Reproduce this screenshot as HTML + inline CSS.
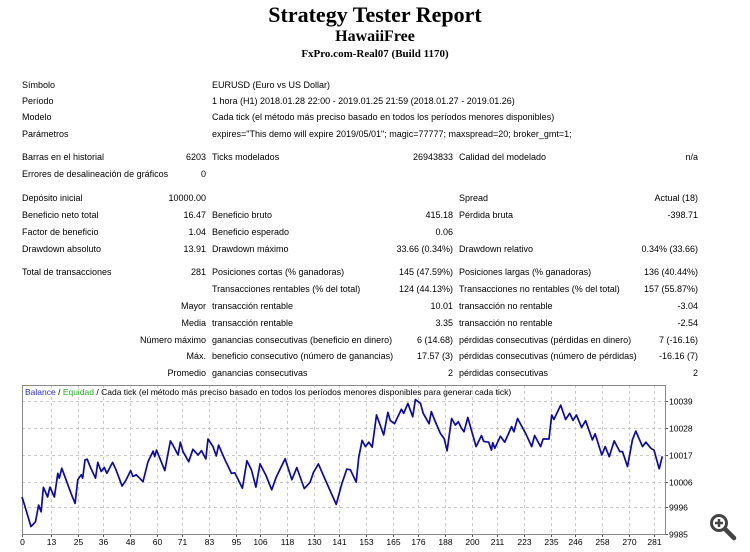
<!DOCTYPE html>
<html><head><meta charset="utf-8">
<style>
body{margin:0;width:750px;height:552px;background:#fff;position:relative;overflow:hidden;font-family:"Liberation Sans",sans-serif;}
.t{position:absolute;font-size:9px;line-height:12px;color:#000;white-space:nowrap;}
.c1{left:22px}.c2{left:212px}.c3{left:459px}
.v1{right:544px;text-align:right}.v2{right:297px;text-align:right}.v3{right:52px;text-align:right}
.h{position:absolute;left:0;width:750px;text-align:center;font-family:"Liberation Serif",serif;font-weight:bold;}
</style></head><body>
<div class="h" style="top:2px;font-size:22px;line-height:26px">Strategy Tester Report</div>
<div class="h" style="top:27px;font-size:16px;line-height:20px">HawaiiFree</div>
<div class="h" style="top:47px;font-size:11px;line-height:14px">FxPro.com-Real07 (Build 1170)</div>

<div class="t c1" style="top:79px">Símbolo</div>
<div class="t c2" style="top:79px">EURUSD (Euro vs US Dollar)</div>
<div class="t c1" style="top:95px">Período</div>
<div class="t c2" style="top:95px">1 hora (H1) 2018.01.28 22:00 - 2019.01.25 21:59 (2018.01.27 - 2019.01.26)</div>
<div class="t c1" style="top:111px">Modelo</div>
<div class="t c2" style="top:111px">Cada tick (el método más preciso basado en todos los períodos menores disponibles)</div>
<div class="t c1" style="top:128px">Parámetros</div>
<div class="t c2" style="top:128px">expires="This demo will expire 2019/05/01"; magic=77777; maxspread=20; broker_gmt=1;</div>

<div class="t c1" style="top:151px">Barras en el historial</div>
<div class="t v1" style="top:151px">6203</div>
<div class="t c2" style="top:151px">Ticks modelados</div>
<div class="t v2" style="top:151px">26943833</div>
<div class="t c3" style="top:151px">Calidad del modelado</div>
<div class="t v3" style="top:151px">n/a</div>
<div class="t c1" style="top:168px">Errores de desalineación de gráficos</div>
<div class="t v1" style="top:168px">0</div>

<div class="t c1" style="top:192px">Depósito inicial</div>
<div class="t v1" style="top:192px">10000.00</div>
<div class="t c3" style="top:192px">Spread</div>
<div class="t v3" style="top:192px">Actual (18)</div>
<div class="t c1" style="top:209px">Beneficio neto total</div>
<div class="t v1" style="top:209px">16.47</div>
<div class="t c2" style="top:209px">Beneficio bruto</div>
<div class="t v2" style="top:209px">415.18</div>
<div class="t c3" style="top:209px">Pérdida bruta</div>
<div class="t v3" style="top:209px">-398.71</div>
<div class="t c1" style="top:226px">Factor de beneficio</div>
<div class="t v1" style="top:226px">1.04</div>
<div class="t c2" style="top:226px">Beneficio esperado</div>
<div class="t v2" style="top:226px">0.06</div>
<div class="t c1" style="top:243px">Drawdown absoluto</div>
<div class="t v1" style="top:243px">13.91</div>
<div class="t c2" style="top:243px">Drawdown máximo</div>
<div class="t v2" style="top:243px">33.66 (0.34%)</div>
<div class="t c3" style="top:243px">Drawdown relativo</div>
<div class="t v3" style="top:243px">0.34% (33.66)</div>

<div class="t c1" style="top:266px">Total de transacciones</div>
<div class="t v1" style="top:266px">281</div>
<div class="t c2" style="top:266px">Posiciones cortas (% ganadoras)</div>
<div class="t v2" style="top:266px">145 (47.59%)</div>
<div class="t c3" style="top:266px">Posiciones largas (% ganadoras)</div>
<div class="t v3" style="top:266px">136 (40.44%)</div>
<div class="t c2" style="top:283px">Transacciones rentables (% del total)</div>
<div class="t v2" style="top:283px">124 (44.13%)</div>
<div class="t c3" style="top:283px">Transacciones no rentables (% del total)</div>
<div class="t v3" style="top:283px">157 (55.87%)</div>
<div class="t v1" style="top:300px">Mayor</div>
<div class="t c2" style="top:300px">transacción rentable</div>
<div class="t v2" style="top:300px">10.01</div>
<div class="t c3" style="top:300px">transacción no rentable</div>
<div class="t v3" style="top:300px">-3.04</div>
<div class="t v1" style="top:317px">Media</div>
<div class="t c2" style="top:317px">transacción rentable</div>
<div class="t v2" style="top:317px">3.35</div>
<div class="t c3" style="top:317px">transacción no rentable</div>
<div class="t v3" style="top:317px">-2.54</div>
<div class="t v1" style="top:334px">Número máximo</div>
<div class="t c2" style="top:334px">ganancias consecutivas (beneficio en dinero)</div>
<div class="t v2" style="top:334px">6 (14.68)</div>
<div class="t c3" style="top:334px">pérdidas consecutivas (pérdidas en dinero)</div>
<div class="t v3" style="top:334px">7 (-16.16)</div>
<div class="t v1" style="top:350px">Máx.</div>
<div class="t c2" style="top:350px">beneficio consecutivo (número de ganancias)</div>
<div class="t v2" style="top:350px">17.57 (3)</div>
<div class="t c3" style="top:350px">pérdidas consecutivas (número de pérdidas)</div>
<div class="t v3" style="top:350px">-16.16 (7)</div>
<div class="t v1" style="top:367px">Promedio</div>
<div class="t c2" style="top:367px">ganancias consecutivas</div>
<div class="t v2" style="top:367px">2</div>
<div class="t c3" style="top:367px">pérdidas consecutivas</div>
<div class="t v3" style="top:367px">2</div>

<svg id="chart" width="750" height="552" style="position:absolute;left:0;top:0"></svg>

<script>
const xTicks=[0,13,25,36,48,60,71,83,95,106,118,130,141,153,165,176,188,200,211,223,235,246,258,270,281];
const yTicks=[9985,9996,10006,10017,10028,10039];
const tradeIdx=[0,1,4,6,7.4,8.5,9.5,11.4,12.4,14.4,15.9,16.6,17.7,19.6,21.8,23.6,24.8,26.3,27,28,29,30.3,32.7,33.7,35.2,36.6,37.7,40.3,41.8,44.5,46.3,48.3,49.3,50.8,53.8,56,58.3,59,59.8,63.5,66,67.1,69.4,70.4,71.6,74.1,76,78.3,79.8,81.7,82.7,84.9,86.4,87.4,90.1,93.1,94.6,98,100,102,104,105.8,108.5,111,113,117,120,122.2,125.5,128.1,129.6,131.8,134,139.7,142.2,144.4,146,148.6,149.7,151.2,152.7,154.2,155.7,157.6,160.8,162.7,163.7,165.6,168.7,169.7,171.6,173.7,174.9,177.2,178.4,181,182,183.2,186,187.7,189,191,192.7,194,195.4,196.5,198.2,201.9,204.3,205.3,207.5,208.7,209.3,210.2,212.7,214.6,217.7,218.7,220.3,223.9,226.6,227.9,230.6,231.7,234.3,235.5,236.5,239.5,241.7,243.5,245,246.5,248.8,250.6,253.6,254.8,257.8,259.3,261.1,263.3,265.8,267,269.2,271.4,272.9,275.9,277.4,279.6,281,283.3,284.7];
const balance=[10000,9997.2,9988,9990,9996.7,9994,10003.9,10000,10004,10000,10009.6,10007.6,10011.6,10006.9,10001.5,9997.4,10007,10009,10007.6,10015,10015.3,10012.3,10007.6,10014,10010.3,10012,10009.6,10014,10011,10004.4,10006.9,10010.7,10008.3,10009,10006.2,10014.3,10018.6,10016.3,10019,10010.7,10022.7,10021,10017,10022.2,10018.4,10014.3,10019.3,10017,10018.8,10015.4,10023.5,10020.4,10016.6,10021,10015.4,10009.6,10009.8,10003.5,10014.7,10011,10004,10013.4,10008.7,10002.9,10008,10015.5,10007,10011.9,10003.4,10006,10010,10013.4,10008.7,9997,10005.3,10011.3,10011,10006,10015.9,10022.9,10020.4,10022.2,10020.2,10033.2,10025.1,10034.3,10031,10029.7,10035.5,10033.9,10037.9,10032.5,10039.5,10037.9,10033.9,10029.7,10034.6,10031.8,10025.8,10023.6,10018.7,10031.8,10029.1,10030.5,10027.8,10026.4,10032.2,10020.4,10024.9,10022.5,10022.2,10019,10022,10019.7,10024.6,10022.2,10028.5,10026.4,10031.8,10025.8,10020.4,10024.9,10020.4,10023.5,10023.5,10033.2,10031.4,10037.2,10031.4,10033.9,10031,10033.2,10028.2,10030.9,10023.1,10025.6,10017,10020.4,10016.3,10022.7,10018.4,10018.4,10012.3,10023.1,10026.7,10020.4,10022.2,10019.7,10019,10011.4,10016.47];

const NS='http://www.w3.org/2000/svg';
const svg=document.getElementById('chart');
const L=22,R=665,T=385,B=534;
const xMax=285,yMin=9985,yMax=10039;
const yTop=400.7;
function xs(i){return L+i*(R-2-L)/xMax;}
function ys(v){return B-(v-yMin)*(B-yTop)/(yMax-yMin);}
function mk(tag,attrs){const e=document.createElementNS(NS,tag);for(const k in attrs)e.setAttribute(k,attrs[k]);svg.appendChild(e);return e;}

const frame=mk('rect',{x:L+0.5,y:T+0.5,width:R-L,height:B-T,fill:'#fff',stroke:'#8a8a8a','stroke-width':1});



yTicks.forEach(v=>{
  const y=Math.round(ys(v))+0.5;
  const g=mk('line',{x1:L,x2:R,y1:y,y2:y,stroke:'#c8c8c8','stroke-dasharray':'3,3'});
  
  
  const tk=mk('line',{x1:R,x2:R+3,y1:y,y2:y,stroke:'#555'});
  
  
  const t=mk('text',{x:R+4,y:y+3,'font-size':'8.5','font-family':'Liberation Sans, sans-serif',fill:'#000'});
  t.textContent=v;
  
  
});
xTicks.forEach(i=>{
  const x=Math.round(xs(i))+0.5;
  const g=mk('line',{x1:x,x2:x,y1:T,y2:B,stroke:'#c8c8c8','stroke-dasharray':'3,3'});
  
  
  const tk=mk('line',{x1:x,x2:x,y1:B,y2:B+3,stroke:'#555'});
  
  
  const t=mk('text',{x:x,y:B+11,'font-size':'8.5','font-family':'Liberation Sans, sans-serif','text-anchor':'middle',fill:'#000'});
  t.textContent=i;
  
  
});
mk('rect',{x:L+0.5,y:T+0.5,width:R-L,height:B-T,fill:'none',stroke:'#8a8a8a'});

const pts=tradeIdx.map((i,k)=>xs(i).toFixed(1)+','+ys(balance[k]).toFixed(1)).join(' ');
const line=mk('polyline',{points:pts,fill:'none',stroke:'#0a0aa8','stroke-width':1.7,'stroke-linejoin':'round'});



const lg=mk('text',{x:L+3,y:T+10,'font-size':'8.5','font-family':'Liberation Sans, sans-serif'});


lg.innerHTML='<tspan fill="#3030c0">Balance</tspan><tspan fill="#000"> / </tspan><tspan fill="#20b020">Equidad</tspan><tspan fill="#000"> / Cada tick (el método más preciso basado en todos los períodos menores disponibles para generar cada tick)</tspan>';

const zg=document.createElementNS(NS,'g');


svg.appendChild(zg);
zg.innerHTML='<circle cx="719" cy="523" r="7.5" fill="#fff" stroke="#444" stroke-width="3"/><line x1="725" y1="529" x2="734" y2="538" stroke="#444" stroke-width="4.5" stroke-linecap="round"/><line x1="715" y1="523" x2="723" y2="523" stroke="#444" stroke-width="2.5"/><line x1="719" y1="519" x2="719" y2="527" stroke="#444" stroke-width="2.5"/>';
</script>
</body></html>
